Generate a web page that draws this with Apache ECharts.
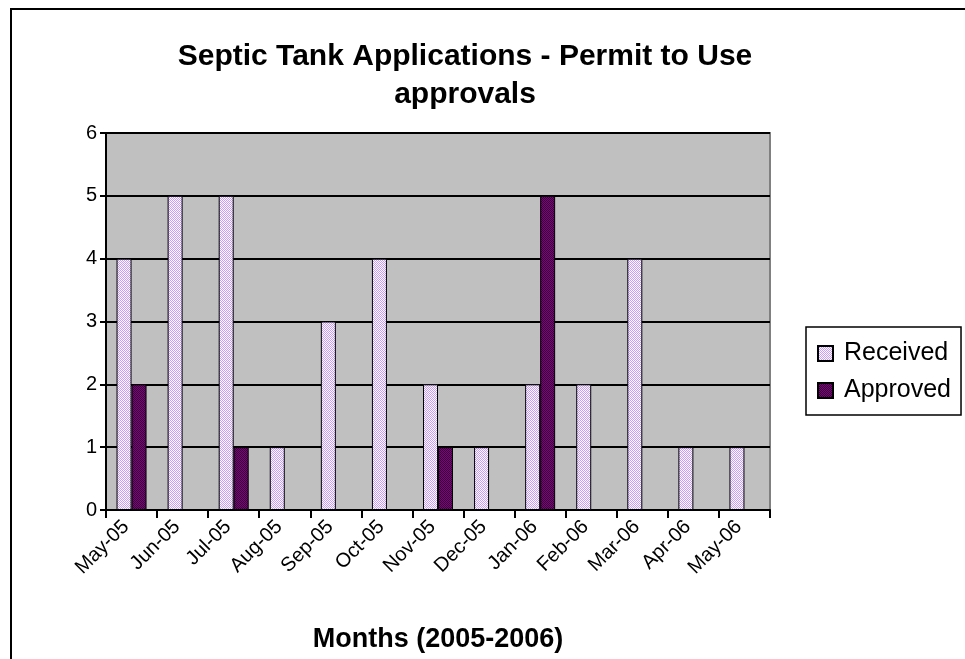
<!DOCTYPE html>
<html>
<head>
<meta charset="utf-8">
<title>Septic Tank Applications - Permit to Use approvals</title>
<script src="https://cdn.jsdelivr.net/npm/echarts@6/dist/echarts.min.js"></script>
<style>
  html, body { margin: 0; padding: 0; background: #ffffff; }
  #chart { width: 965px; height: 659px; }
</style>
</head>
<body>
<div id="chart"></div>
<script>
// Monthly permit-to-use figures, May 2005 - May 2006
const months = ['May-05', 'Jun-05', 'Jul-05', 'Aug-05', 'Sep-05', 'Oct-05', 'Nov-05',
                'Dec-05', 'Jan-06', 'Feb-06', 'Mar-06', 'Apr-06', 'May-06'];
const received = [4, 5, 5, 1, 3, 4, 2, 1, 2, 2, 4, 1, 1];
const approved = [2, 0, 1, 0, 0, 0, 1, 0, 5, 0, 0, 0, 0];
const yTicks = [0, 1, 2, 3, 4, 5, 6];

// Small checkerboard tiles used as dithered bar fills
function checker(a, b) {
  const c = document.createElement('canvas');
  c.width = 2; c.height = 2;
  const g = c.getContext('2d');
  g.fillStyle = a; g.fillRect(0, 0, 2, 2);
  g.fillStyle = b; g.fillRect(0, 0, 1, 1); g.fillRect(1, 1, 1, 1);
  return { image: c, repeat: 'repeat' };
}
const receivedFill = checker('#ffffff', '#cc99ff');
const approvedFill = checker('#800080', '#330033');

const font = 'Liberation Sans, Arial, sans-serif';
const chart = echarts.init(document.getElementById('chart'), null, { renderer: 'canvas' });

chart.setOption({
  animation: false,
  backgroundColor: '#ffffff',
  textStyle: { fontFamily: font, color: '#000' },
  graphic: [
    {
      type: 'rect', z: -10, silent: true,
      shape: { x: 11, y: 9, width: 1000, height: 700 },
      style: { fill: 'none', stroke: '#000', lineWidth: 2 }
    },
    {
      type: 'text', x: 465, y: 57, silent: true,
      style: {
        text: 'Septic Tank Applications - Permit to Use',
        align: 'center', verticalAlign: 'middle',
        font: 'bold 30px ' + font, fill: '#000'
      }
    },
    {
      type: 'text', x: 465, y: 95, silent: true,
      style: {
        text: 'approvals',
        align: 'center', verticalAlign: 'middle',
        font: 'bold 30px ' + font, fill: '#000'
      }
    }
  ],
  grid: {
    left: 106, top: 133, width: 664, height: 377,
    show: true, backgroundColor: '#c0c0c0', borderColor: '#808080', borderWidth: 2,
    containLabel: false
  },
  legend: {
    orient: 'vertical', left: 806, top: 327,
    itemWidth: 15, itemHeight: 15, itemGap: 12,
    padding: [14, 10, 12, 11],
    borderColor: '#000', borderWidth: 1.5, backgroundColor: '#fff',
    icon: 'rect',
    textStyle: { fontFamily: font, fontSize: 25, color: '#000', padding: [0, 0, 0, 6] },
    data: ['Received', 'Approved']
  },
  xAxis: {
    type: 'category',
    data: months,
    boundaryGap: true,
    name: 'Months (2005-2006)',
    nameLocation: 'middle',
    nameGap: 130,
    nameTextStyle: { fontFamily: font, fontSize: 27, fontWeight: 'bold', color: '#000', verticalAlign: 'middle' },
    axisLine: { lineStyle: { color: '#000', width: 2 } },
    axisTick: { show: true, length: 8, lineStyle: { color: '#000', width: 2 } },
    axisLabel: { rotate: 45, margin: 8, fontFamily: font, fontSize: 20, color: '#000', interval: 0, padding: [0, 8, 0, 0] },
    splitLine: { show: false }
  },
  yAxis: {
    type: 'value',
    min: yTicks[0], max: yTicks[yTicks.length - 1], interval: 1,
    axisLine: { show: true, lineStyle: { color: '#000', width: 2 } },
    axisTick: { show: true, length: 6, lineStyle: { color: '#000', width: 2 } },
    axisLabel: { margin: 9, fontFamily: font, fontSize: 20, color: '#000' },
    splitLine: { show: true, lineStyle: { color: '#000', width: 2 } }
  },
  series: [
    {
      name: 'Received', type: 'bar', data: received,
      barWidth: 15, barGap: '0%',
      itemStyle: { color: receivedFill, borderColor: '#000', borderWidth: 1 }
    },
    {
      name: 'Approved', type: 'bar', data: approved,
      barWidth: 15, barGap: '0%',
      itemStyle: { color: approvedFill, borderColor: '#000', borderWidth: 1 }
    }
  ]
});
</script>
</body>
</html>
